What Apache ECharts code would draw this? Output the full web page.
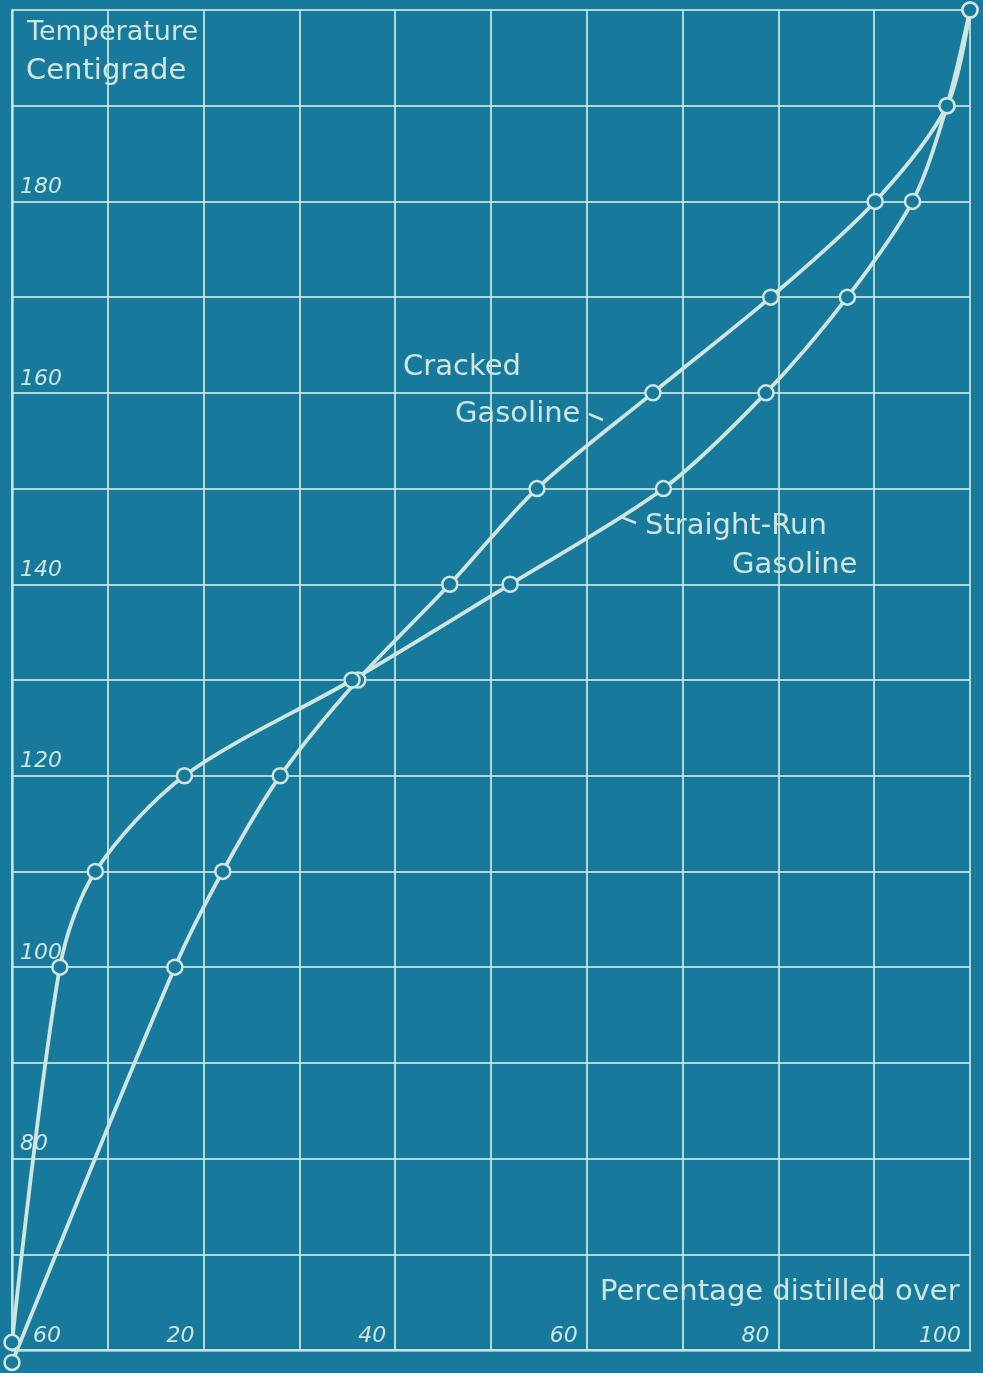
<!DOCTYPE html>
<html>
<head>
<meta charset="utf-8">
<script src="https://cdn.jsdelivr.net/npm/echarts@6/dist/echarts.min.js"></script>
<style>
  html, body { margin: 0; padding: 0; background: #177a9d; }
  #chart { width: 983px; height: 1373px; }
</style>
</head>
<body>
<div id="chart"></div>
<script>
// Distillation curves: temperature (°C) against percentage distilled over
const pctCracked   = [0, 17, 22, 28, 36.1, 45.7, 54.8, 66.9, 79.2, 90.1, 97.6, 100];
const tempCracked  = [58.7, 100, 110, 120, 130, 140, 150, 160, 170, 180, 190, 200];
const pctStraight  = [0, 5, 8.7, 18, 35.5, 52, 68, 78.7, 87.2, 94, 97.6, 100];
const tempStraight = [60.8, 100, 110, 120, 130, 140, 150, 160, 170, 180, 190, 200];

const xTickLabels = [20, 40, 60, 80, 100];
const yTickLabels = [60, 80, 100, 120, 140, 160, 180];

const BG = '#177a9d';
const INK = '#cfe6e0';
const GRID_INK = 'rgba(205,230,225,0.85)';
const HAND = '"DejaVu Sans", "Noto Sans", sans-serif';

const pairs = (xs, ys) => xs.map((x, i) => [x, ys[i]]);

const chart = echarts.init(document.getElementById('chart'));

const curveStyle = {
  type: 'line',
  smooth: 0.3,
  clip: false,
  showAllSymbol: true,
  symbol: 'circle',
  symbolSize: 15,
  lineStyle: { color: INK, width: 3.8 },
  itemStyle: { color: BG, borderColor: INK, borderWidth: 2.5 },
  emphasis: { disabled: true },
  z: 3
};

const label = (text, left, top, size) => ({
  type: 'text', left, top, z: 10,
  style: { text, fill: INK, font: (size || 29) + 'px ' + HAND }
});

const tickFont = {
  color: INK,
  fontFamily: HAND,
  fontStyle: 'italic',
  fontSize: 22
};

chart.setOption({
  backgroundColor: BG,
  animation: false,
  grid: { left: 12, right: 13, top: 10, bottom: 23 },
  xAxis: {
    type: 'value',
    min: 0, max: 100, interval: 10,
    axisLine: { show: true, lineStyle: { color: GRID_INK, width: 2.5 } },
    axisTick: { show: false },
    splitLine: { show: true, lineStyle: { color: GRID_INK, width: 2 } },
    axisLabel: Object.assign({
      inside: true,
      margin: 3,
      align: 'right',
      verticalAlign: 'bottom',
      padding: [0, 9, 0, 0],
      formatter: v => (xTickLabels.includes(v) ? String(v) : '')
    }, tickFont)
  },
  yAxis: {
    type: 'value',
    min: 60, max: 200, interval: 10,
    axisLine: { show: true, lineStyle: { color: GRID_INK, width: 2.5 } },
    axisTick: { show: false },
    splitLine: { show: true, lineStyle: { color: GRID_INK, width: 2 } },
    axisLabel: Object.assign({
      inside: true,
      margin: 8,
      align: 'left',
      verticalAlign: 'bottom',
      padding: [0, 0, 3, 0],
      // the lowest label sits clear of the corner markers
      formatter: v => (!yTickLabels.includes(v) ? '' : (v === 60 ? '{low|60}' : String(v))),
      rich: {
        low: Object.assign({ padding: [0, 0, 0, 13] }, tickFont)
      }
    }, tickFont)
  },
  series: [
    Object.assign({ name: 'Cracked Gasoline', data: pairs(pctCracked, tempCracked) }, curveStyle),
    Object.assign({ name: 'Straight-Run Gasoline', data: pairs(pctStraight, tempStraight) }, curveStyle)
  ],
  graphic: [
    label('Temperature', 27, 19, 27),
    label('Centigrade', 26, 57),
    label('Cracked', 403, 353),
    label('Gasoline', 455, 400),
    { type: 'line', z: 10,
      shape: { x1: 589, y1: 414, x2: 603, y2: 420 },
      style: { stroke: INK, lineWidth: 2.5 } },
    label('Straight-Run', 645, 512),
    label('Gasoline', 732, 551),
    { type: 'line', z: 10,
      shape: { x1: 621, y1: 517, x2: 636, y2: 523 },
      style: { stroke: INK, lineWidth: 2.5 } },
    label('Percentage distilled over', 600, 1278)
  ]
});
</script>
</body>
</html>
